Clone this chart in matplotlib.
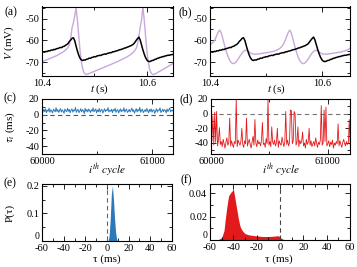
import numpy as np
import matplotlib
matplotlib.use('Agg')
import matplotlib.pyplot as plt
from matplotlib.ticker import MultipleLocator
from matplotlib.transforms import ScaledTranslation

# ---------------- data ----------------
t_start = 10.40
t_step = 0.0025

v_black = [-65.5, -65.2, -65.4, -65.0, -65.1, -64.7, -64.8, -64.4, -64.5, -64.1,
           -64.2, -63.8, -63.7, -63.5, -63.2, -63.3, -62.8, -62.7, -62.2, -61.9,
           -61.3, -60.4, -59.8, -59.0, -58.8, -60.2, -62.6, -64.8, -66.7, -68.1,
           -68.9, -69.2, -68.9, -69.0, -68.6, -68.5, -68.1, -68.2, -67.8, -67.7,
           -67.4, -67.5, -67.1, -67.0, -66.8, -66.9, -66.5, -66.4, -66.2, -66.3,
           -65.9, -65.8, -65.6, -65.6, -65.2, -65.2, -64.9, -64.8, -64.6, -64.3,
           -64.2, -64.0, -63.8, -63.5, -63.4, -63.1, -62.9, -62.6, -62.4, -62.0,
           -61.6, -60.8, -59.9, -59.1, -58.5, -59.9, -62.1, -64.3, -66.2, -67.8,
           -68.9, -69.5, -69.7, -69.5, -69.2, -69.1, -68.7, -68.6, -68.2, -68.1,
           -67.8, -67.7, -67.4, -67.4, -67.1, -67.0, -66.8, -66.8, -66.6, -66.5,
           -66.4]

v_purple_a = [-69.7, -69.5, -69.2, -69.0, -68.8, -68.5, -68.3, -68.0, -67.8, -67.5,
              -67.3, -67.0, -66.7, -66.4, -66.0, -65.7, -65.3, -64.9, -64.4, -63.8,
              -63.0, -61.8, -58.5, -54.0, -51.8, -48.8, -45.2, -50.5, -57.5, -64.5,
              -69.5, -72.8, -74.6, -75.4, -75.6, -75.4, -75.1, -74.9, -74.6, -74.4,
              -74.1, -73.9, -73.6, -73.4, -73.1, -72.9, -72.6, -72.4, -72.1, -71.9,
              -71.6, -71.4, -71.1, -70.9, -70.6, -70.4, -70.1, -69.8, -69.6, -69.3,
              -69.0, -68.7, -68.4, -68.1, -67.8, -67.5, -67.1, -66.7, -66.3, -65.8,
              -65.2, -64.5, -63.5, -61.5, -58.0, -54.0, -50.5, -44.6, -50.5, -57.5,
              -64.5, -69.5, -72.8, -74.6, -75.4, -75.6, -75.4, -75.1, -74.8, -74.4,
              -74.1, -73.7, -73.4, -73.0, -72.7, -72.3, -72.0, -71.6, -71.3, -70.9,
              -70.6]

v_purple_b = [-62.0, -61.5, -61.0, -60.2, -59.0, -57.5, -56.0, -55.3, -56.5, -58.8,
              -61.3, -63.7, -65.8, -67.6, -69.0, -70.0, -70.5, -70.6, -70.2, -69.5,
              -68.6, -67.6, -66.6, -65.7, -65.0, -64.6, -64.5, -64.8, -65.3, -65.8,
              -66.1, -66.2, -66.3, -66.2, -66.3, -66.1, -66.1, -65.9, -65.9, -65.7,
              -65.7, -65.5, -65.5, -65.3, -65.2, -65.0, -64.9, -64.6, -64.4, -64.0,
              -63.6, -63.0, -62.2, -61.0, -59.5, -57.8, -56.2, -55.3, -56.5, -58.8,
              -61.3, -63.7, -65.8, -67.6, -69.0, -70.0, -70.5, -70.6, -70.2, -69.5,
              -68.6, -67.6, -66.6, -65.7, -65.0, -64.6, -64.5, -64.8, -65.3, -65.8,
              -66.1, -66.2, -66.3, -66.2, -66.3, -66.1, -66.1, -65.9, -65.9, -65.7,
              -65.7, -65.5, -65.5, -65.3, -65.2, -65.0, -64.9, -64.6, -64.4, -64.0,
              -63.6]

cycle_start = 60000
cycle_step = 8

tau_c = [5.1, 3.2, 6.8, 4.0, 7.5, 2.6, 5.9, 4.4, 8.3, 3.1, 6.2, 4.8, 2.2, 7.0, 5.3,
         3.7, 8.9, 4.1, 6.5, 2.9, 5.6, 7.8, 3.4, 6.0, 4.6, 1.8, 7.2, 5.0, 3.9, 8.1,
         4.3, 6.7, 2.5, 5.8, 7.4, 3.3, 6.1, 4.9, 9.2, 3.0, 5.5, 6.9, 2.7, 4.7, 7.7,
         3.6, 6.4, 5.2, 1.5, 8.0, 4.2, 6.6, 3.5, 7.1, 5.7, 2.8, 6.3, 4.5, 8.6, 3.8,
         5.4, 7.3, 2.4, 6.0, 4.0, 7.9, 3.2, 5.9, 6.8, 2.1, 4.8, 7.6, 3.9, 6.2, 5.1,
         9.0, 3.4, 5.6, 4.4, 7.0, 2.6, 6.5, 4.9, 8.2, 3.0, 5.3, 6.7, 2.3, 5.0, 7.5,
         3.7, 6.1, 4.6, 8.8, 3.3, 5.8, 7.2, 2.9, 4.3, 6.9, 3.6, 5.5, 8.4, 4.1, 6.3,
         2.0, 5.2, 7.8, 3.5, 6.6, 4.7, 9.4, 3.1, 5.7, 7.1, 2.7, 4.5, 6.4, 3.8, 8.0,
         5.0, 2.4, 6.8, 4.2, 7.4, 3.2, 5.9, 6.2, 1.7, 4.9, 7.7, 3.4, 6.0, 5.3, 8.7,
         2.8, 4.6, 7.0, 3.9, 6.5, 5.4, 2.2, 7.3, 4.0, 6.1, 8.5, 3.6, 5.6, 4.8, 6.3]

tau_d = [-41, -37, -3, -43, 2, -39, 3, -44, -36, -19,
         -42, -38, -45, -35, -41, -47, -39, -33, -43, -40,
         -6, -44, -37, -42, -46, -38, -41, 20, -45, -36,
         -40, -43, -38, -20, -42, -46, -37, -41, -6, -44,
         -39, -35, -42, -47, -38, -31, -43, -8, -40, -45,
         -36, -41, -39, -44, -37, -12, -42, -40, -46, -34,
         -41, 20, -43, -38, -45, -18, -39, -42, -36, -44,
         -40, -20, -46, -37, -41, -43, -32, -39, -45, -38,
         3, -42, -36, -44, -40, 5, 4, -41, -37, 3,
         0, -43, -39, -18, -45, -36, -41, -38, -25, -44,
         -40, -47, -35, -42, -39, -20, -43, -37, -45, -41,
         -38, -44, -33, -40, -46, -39, -42, -36, 11, -43,
         -40, 5, -38, 9, -44, -41, -37, -45, -39, -42,
         -36, -47, -40, -43, -38, -41, -14, -44, -37, -42,
         -46, -39, -35, -41, -44, -38, -42, -40, -8, -43]

tau_e = [0, 1, 2, 3, 4, 5, 6, 7, 8, 9, 10]
p_e = [0, 0.0, 0.02, 0.08, 0.17, 0.2, 0.15, 0.08, 0.03, 0.005, 0]

tau_f = [-56, -53, -50, -48, -47, -46, -45, -44, -42, -41, -40, -39, -38, -37, -36,
         -35, -34, -32, -30, -27, -24, -20, -15, -10, -5, -2, 0, 1, 3, 6, 15, 20]
p_f = [0, 0.0003, 0.002, 0.008, 0.017, 0.025, 0.032, 0.038, 0.041, 0.042, 0.044,
       0.038, 0.032, 0.026, 0.020, 0.015, 0.011, 0.0075, 0.0055, 0.0045, 0.004,
       0.0035, 0.003, 0.003, 0.0033, 0.0037, 0.003, 0.0015, 0.0005, 0.0003, 0.0001, 0]

# ---------------- style ----------------
plt.rcParams.update({
    'font.family': ['Liberation Serif', 'DejaVu Serif'],
    'mathtext.fontset': 'stix',
    'axes.unicode_minus': False,
    'font.size': 7.5,
})

W, H = 357, 267
fig = plt.figure(figsize=(W / 100, H / 100), dpi=100)


def add_ax(l, t, r, b):
    return fig.add_axes([l / W, 1 - b / H, (r - l) / W, (b - t) / H])


def style(ax):
    ax.tick_params(which='both', direction='in', top=True, right=True,
                   labelsize=7.5, pad=2, width=0.6)
    ax.tick_params(which='major', length=3.5)
    ax.tick_params(which='minor', length=2)
    for s in ax.spines.values():
        s.set_linewidth(0.8)


def ftext(x, y, s, **kw):
    fig.text(x / W, 1 - y / H, s, ha='center', va='center', **kw)


black = '#000000'
purple = '#c9a8dc'
blue = '#2b79b9'
red = '#e31a1c'

t_trace = t_start + t_step * np.arange(len(v_black))

axa = add_ax(42, 6.5, 173, 76.5)
axb = add_ax(210, 6.5, 350, 76.5)
axc = add_ax(42, 99, 173, 154)
axd = add_ax(211, 99, 350, 154)
axe = add_ax(42, 184, 172, 241)
axf = add_ax(210, 184, 350, 240)

for ax, vp in ((axa, v_purple_a), (axb, v_purple_b)):
    ax.plot(t_trace, vp, color=purple, lw=1.0)
    ax.plot(t_trace, v_black, color=black, lw=1.1)
    ax.set_xlim(10.4, 10.65)
    ax.set_ylim(-76.5, -44.5)
    ax.xaxis.set_major_locator(MultipleLocator(0.2))
    ax.xaxis.set_minor_locator(MultipleLocator(0.1))
    ax.yaxis.set_major_locator(MultipleLocator(10))
    ax.yaxis.set_minor_locator(MultipleLocator(5))
    style(ax)

cyc_c = cycle_start + cycle_step * np.arange(len(tau_c))
cyc_d = cycle_start + cycle_step * np.arange(len(tau_d))

axc.axhline(0, color='#555555', lw=0.8, ls=(0, (4, 3)))
axc.plot(cyc_c, tau_c, color=blue, lw=0.7)
axc.set_ylim(-50, 20)
axd.axhline(0, color='#777777', lw=0.8, ls=(0, (4, 3)))
axd.plot(cyc_d, tau_d, color=red, lw=0.6)
axd.set_ylim(-55, 20)
for ax in (axc, axd):
    ax.set_xlim(60000, 61190)
    ax.xaxis.set_major_locator(MultipleLocator(1000))
    ax.xaxis.set_minor_locator(MultipleLocator(500))
    ax.yaxis.set_major_locator(MultipleLocator(20))
    ax.yaxis.set_minor_locator(MultipleLocator(10))
    style(ax)

axe.fill_between(tau_e, p_e, color=blue, lw=0)
axe.axvline(0, color='#666666', lw=0.8, ls=(0, (4, 3)))
axe.set_ylim(0, 0.207)
axe.set_yticks([0, 0.1, 0.2])
axe.set_yticklabels(['0', '0.1', '0.2'])
axe.yaxis.set_minor_locator(MultipleLocator(0.05))

axf.fill_between(tau_f, p_f, color=red, lw=0)
axf.axvline(0, color='#444444', lw=0.8, ls=(0, (4, 3)))
axf.set_ylim(0, 0.048)
axf.set_yticks([0, 0.02, 0.04])
axf.set_yticklabels(['0', '0.02', '0.04'])
axf.yaxis.set_minor_locator(MultipleLocator(0.01))

for ax in (axe, axf):
    ax.set_xlim(-60, 60)
    ax.xaxis.set_major_locator(MultipleLocator(20))
    ax.xaxis.set_minor_locator(MultipleLocator(10))
    style(ax)
    # raise the "0" y label slightly, as in the reference
    lab0 = ax.get_yticklabels()[0]
    lab0.set_transform(lab0.get_transform() +
                       ScaledTranslation(0, 4 / 72, fig.dpi_scale_trans))
    lab0.set_fontsize(7)

# labels
ftext(11, 12, '(a)', fontsize=8.5)
ftext(185, 12, '(b)', fontsize=8.5)
ftext(10, 98, '(c)', fontsize=8.5)
ftext(186, 99, '(d)', fontsize=8.5)
ftext(10, 183, '(e)', fontsize=8.5)
ftext(186, 180, '(f)', fontsize=8.5)

ftext(9, 42, r'$V$ (mV)', fontsize=8, rotation=90)
ftext(100, 89, r'$t$ (s)', fontsize=8)
ftext(277, 89, r'$t$ (s)', fontsize=8)
ftext(10, 127, r'$\tau_i$ (ms)', fontsize=8, rotation=90)
ftext(107, 170, r'$i^{th}\ cycle$', fontsize=8)
ftext(281, 170, r'$i^{th}\ cycle$', fontsize=8)
ftext(10, 213, 'P(τ)', fontsize=8, rotation=90)
ftext(107, 259, 'τ (ms)', fontsize=8)
ftext(279, 259, 'τ (ms)', fontsize=8)

fig.savefig('out.png', dpi=100)
